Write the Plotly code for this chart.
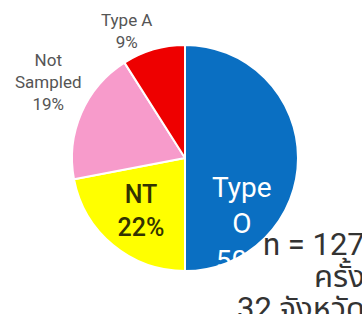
import math
import plotly.graph_objects as go

labels = ["Type O", "NT", "Not Sampled", "Type A"]
values = [50, 22, 19, 9]
slice_text = ["Type<br>O<br>50%", "NT<br>22%", "Not<br>Sampled<br>19%", "Type A<br>9%"]
colors = ["#0A6FC2", "#FFFF00", "#F79BCB", "#EE0000"]
text_colors = ["white", "#333300", "#555555", "#555555"]
inside = [True, True, False, False]
note_lines = ["n = 127", "ครั้ง", "32 จังหวัด"]

W, H = 362, 314
cx, cy, r = 185, 158, 113

# Inside text via the pie for NT; Type O and the outside labels as annotations
pie_text = ["", slice_text[1], "", ""]

fig = go.Figure(go.Pie(
    labels=labels,
    values=values,
    text=pie_text,
    textinfo="text",
    textposition="inside",
    insidetextorientation="horizontal",
    automargin=False,
    sort=False,
    direction="clockwise",
    rotation=0,
    marker=dict(colors=colors, line=dict(color="white", width=2)),
    insidetextfont=dict(family="Roboto", size=25, color=text_colors[1], weight=500),
    domain=dict(x=[(cx - r) / W, (cx + r) / W], y=[(H - cy - r) / H, (H - cy + r) / H]),
    showlegend=False,
    hoverinfo="label+percent",
))

# Type O label, low in its slice
fig.add_annotation(
    text=slice_text[0], xref="paper", yref="paper", x=242 / W, y=(H - 224) / H,
    xanchor="center", yanchor="middle", align="center", showarrow=False,
    font=dict(family="Roboto", size=28, color=text_colors[0]),
)

# outside labels: anchored at the pie edge along each slice's bisector
total = sum(values)
cum = 0
for i, v in enumerate(values):
    mid = (cum + v / 2) / total * 2 * math.pi
    cum += v
    if inside[i]:
        continue
    d = r - 3
    px = cx + d * math.sin(mid)
    py = cy - d * math.cos(mid)
    fig.add_annotation(
        text=slice_text[i], xref="paper", yref="paper", x=px / W, y=(H - py) / H,
        xanchor="right", yanchor="bottom", align="center", showarrow=False, yshift=-2,
        font=dict(family="Roboto", size=17, color=text_colors[i]),
    )

for i, line in enumerate(note_lines):
    fig.add_annotation(
        text=line, xref="paper", yref="paper", x=367 / W, y=(H - (244 + 32 * i)) / H,
        xanchor="right", yanchor="middle", align="right", showarrow=False,
        font=dict(family="Roboto, 'Noto Sans Thai', 'Noto Sans', sans-serif", size=31, color="#333333"),
    )

fig.update_layout(
    width=W, height=H,
    margin=dict(l=0, r=0, t=0, b=0),
    paper_bgcolor="white",
    plot_bgcolor="white",
    font=dict(family="Roboto"),
)

fig.write_html("out.html", config={"displayModeBar": False},
               post_script="document.body.style.margin='0px';")
